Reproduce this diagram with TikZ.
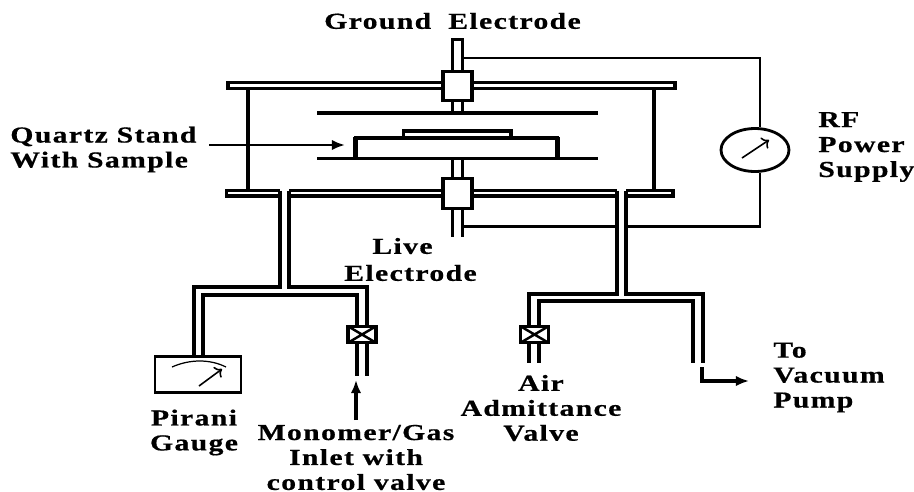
\documentclass[tikz,border=0pt]{standalone}
\usepackage{fontspec}
\setmainfont[FakeStretch=1.3,LetterSpace=6,FakeBold=0.6]{Liberation Serif}
\usetikzlibrary{shapes.geometric,arrows.meta}

\begin{document}
\begin{tikzpicture}[
  x=0.02cm, y=-0.02cm,
  pipe/.style = {line width=1.9pt, line join=miter},
  wire/.style = {line width=1.4pt},
  box/.style = {rectangle, draw, fill=white, line width=1.9pt, minimum width=0.58cm, minimum height=0.59cm, inner sep=0pt},
  valve/.style = {rectangle, draw, fill=white, line width=1.9pt, minimum width=0.56cm, minimum height=0.33cm, inner sep=0pt,
    path picture={\draw[line width=1.4pt] (path picture bounding box.north west) -- (path picture bounding box.south east)
      (path picture bounding box.north east) -- (path picture bounding box.south west);}},
  lbl/.style = {align=center, inner sep=0pt, font=\fontsize{13}{14.2}\selectfont\bfseries},
  arrow/.style = {-{Latex[length=7.5pt,width=6pt]}, line width=1.5pt}
]
\useasboundingbox (0,0) rectangle (914,491);

% Chamber flanges and walls
\draw[pipe] (228,82.5) rectangle (675,88.5);
\draw[pipe] (280,190.5) -- (226.5,190.5) -- (226.5,196) -- (280,196);
\draw[pipe] (289,190.5) -- (617,190.5);
\draw[pipe] (289,196) -- (617,196);
\draw[pipe] (626,190.5) -- (673,190.5) -- (673,196) -- (626,196);
\draw[pipe] (248,88.5) -- (248,190.5);
\draw[pipe] (654,88.5) -- (654,190.5);

% Plates, stand and sample
\draw[pipe] (317,113) -- (598,113);
\draw[pipe] (317,158.5) -- (598,158.5);
\draw[pipe] (356,158.5) -- (356,138) -- (557,138) -- (557,158.5);
\draw[wire] (354.5,158.5) -- (354.5,137) (558.5,158.5) -- (558.5,137);
\draw[pipe] (403.5,138) -- (403.5,131) -- (511,131) -- (511,138);

% Electrodes
\draw[pipe] (452.5,113) -- (452.5,39.5) -- (462.5,39.5) -- (462.5,113);
\draw[pipe] (452.5,158.5) -- (452.5,237);
\draw[pipe] (462.5,158.5) -- (462.5,237);
\node[box] at (457.5,86) (topbox) {};
\node[box] at (457.5,193.5) (botbox) {};

% Left port
\draw[pipe] (280,190.5) -- (280,287) -- (194,287) -- (194,356);
\draw[pipe] (289,190.5) -- (289,287) -- (367,287) -- (367,325);
\draw[pipe] (203,356) -- (203,295) -- (357,295) -- (357,325);
\draw[pipe] (357,344) -- (357,376);
\draw[pipe] (367,344) -- (367,376);
\node[valve] at (362,334.5) (inletvalve) {};

% Right port
\draw[pipe] (617,190.5) -- (617,294) -- (529,294) -- (529,325);
\draw[pipe] (626,190.5) -- (626,294) -- (703,294) -- (703,363);
\draw[pipe] (539,325) -- (539,301) -- (693,301) -- (693,363);
\draw[pipe] (529,344) -- (529,363);
\draw[pipe] (539,344) -- (539,363);
\node[valve] at (534.5,334.5) (airvalve) {};

% Pirani gauge
\node[rectangle, draw, fill=white, line width=1.6pt, minimum width=1.72cm, minimum height=0.72cm, inner sep=0pt] at (198,374.5) (gauge) {};
\draw[line width=0.7pt] (172,367) .. controls (190,359) and (210,359) .. (226,367);
\draw[->, line width=0.9pt] (199,386) -- (222,369);

% RF supply and its wires
\node[ellipse, draw, line width=1.6pt, minimum width=1.36cm, minimum height=0.86cm, inner sep=0pt] at (755,150) (rf) {};
\draw[->, line width=0.9pt] (742,158) -- (769,140);
\coordinate (topcorner) at (760,58);
\coordinate (botcorner) at (760,226.5);
\coordinate (topwire) at (463,58);
\coordinate (botwire) at (463,226.5);
\draw[wire] (topwire) -- (topcorner) -- (rf.north -| topcorner);
\draw[wire] (botwire) -- (617,226.5);
\draw[wire] (626,226.5) -- (botcorner) -- (rf.south -| botcorner);

% Flow arrows
\coordinate (standtip) at (345,145);
\coordinate (standtail) at (209,145);
\draw[arrow] (standtail) -- (standtip);
\coordinate (gastip) at (356,380);
\coordinate (gastail) at (356,420);
\draw[arrow, line width=2.2pt] (gastail) -- (gastip);
\coordinate (pumptail) at (702,367);
\coordinate (pumptip) at (749,381);
\draw[arrow, line width=2pt] (pumptail) |- (pumptip);

% Labels
\node[lbl] at (452.5,21) (groundlbl) {Ground\hspace{0.75em}Electrode};
\node[lbl, anchor=west, align=left] at (10,149.5) (standlbl) {Quartz Stand\\With Sample};
\node[lbl, anchor=west, align=left] at (818,147) (rflbl) {RF\\Power\\Supply};
\node[lbl] at (402.5,246) (livelbl) {Live};
\node[lbl] at (410.5,273) (electrodelbl) {Electrode};
\node[lbl] at (194,432.5) (piranilbl) {Pirani\\Gauge};
\node[lbl] at (356,457.5) (monomerlbl) {Monomer/Gas\\Inlet with\\control valve};
\node[lbl] at (541,408) (airlbl) {Air\\Admittance\\Valve};
\node[lbl, anchor=west, align=left] at (773,377.5) (pumplbl) {To\\Vacuum\\Pump};

\end{tikzpicture}
\end{document}
